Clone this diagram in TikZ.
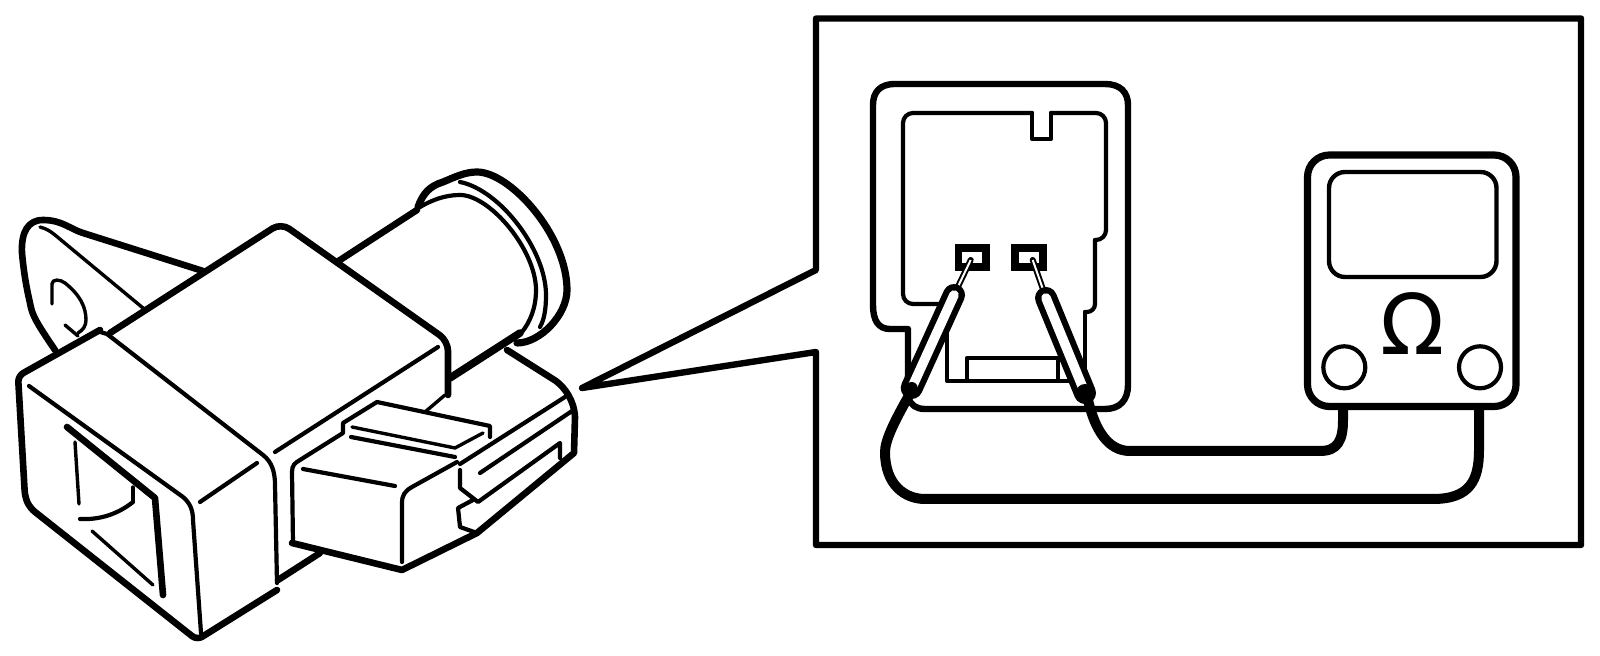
\documentclass[tikz,border=0pt]{standalone}
\usepackage{fontspec}
\newfontfamily\symfont{DejaVu Sans}
\tikzset{
  px/.style={x=0.5pt,y=-0.5pt},
  hair/.style={draw=black,line width=1.7pt,line cap=round,line join=round},
  mid/.style={draw=black,line width=2.1pt,line cap=round,line join=round},
  heavy/.style={draw=black,line width=3.3pt,line cap=round,line join=round},
  cablew/.style={draw=black,line width=5pt,line cap=butt,line join=round},
}
\begin{document}
\begin{tikzpicture}[px]
\useasboundingbox[fill=white] (0,0) rectangle (1600,656);
% ---------- device: bracket
\draw[heavy] (203,271) -- (83,233) .. controls (70,229) and (62,220) .. (43,220) .. controls (28,220) and (21,232) .. (22,253) .. controls (24,275) and (27,290) .. (30,303) .. controls (32,315) and (36,322) .. (55,350);
\draw[hair] (40,227) .. controls (47,229) and (50,231) .. (55,235) -- (143,308);
\draw[hair] (52,304) -- (52,284) .. controls (52,279) and (60,279) .. (65,283) .. controls (80,295) and (86,307) .. (86,320) .. controls (86,326) and (83,330) .. (78,333);
\draw[hair] (65,325) -- (78,336);
% rear block
\draw[heavy,rounded corners=5pt] (110,333) -- (281,223) -- (448,341) -- (448,395);
\draw[hair] (445,395) -- (425,412);
\draw[mid] (438,347) -- (275,452);
% cylinder
\draw[heavy] (337,262) -- (417,210);
\draw[line width=3.6pt,draw=black,line cap=round,line join=round] (418,207) .. controls (423,193) and (430,186) .. (443,182) .. controls (455,177) and (465,172) .. (477,172) .. controls (510,172) and (567,235) .. (567,290) .. controls (567,315) and (540,343) .. (517,343);
\draw[mid] (420,207) .. controls (432,200) and (445,195) .. (460,195) .. controls (490,195) and (536,250) .. (536,290) .. controls (536,308) and (530,322) .. (522,332);
\draw[mid] (460,182) .. controls (500,190) and (546,250) .. (546,295) .. controls (546,310) and (544,320) .. (540,327);
\draw[line width=3.8pt,draw=black,line cap=round] (450,378) -- (520,333);
% rear connector
\draw[heavy] (507,350) -- (556,381) .. controls (565,388) and (574,400) .. (575,417) -- (574,453) -- (477,533) -- (402,570) -- (292,543);
\draw[heavy] (320,553) -- (278,580);
% front connector detail
\draw[mid] (293,543) -- (292,472) .. controls (292,465) and (295,463) .. (300,460) -- (343,433) -- (343,423) -- (377,402) -- (490,426) -- (490,437);
\draw[hair] (352,427) -- (455,448) -- (483,433);
\draw[mid] (351,437) -- (455,457);
\draw[mid] (303,469) -- (395,486);
\draw[mid] (457,462) -- (412,487) .. controls (405,491) and (402,495) .. (402,503) -- (402,562);
\draw[mid] (460,464) -- (565,397);
\draw[mid] (480,473) -- (572,411);
\draw[mid] (460,470) -- (460,488) -- (478,502) -- (560,443) -- (560,458);
\draw[mid] (473,500) -- (458,508) -- (460,527) -- (477,533);
% front block
\draw[heavy,rounded corners=3pt] (100,330) -- (18,376) -- (25,497) -- (30,508) -- (197,640) -- (277,590);
\draw[mid] (97,331) -- (107,334) -- (263,455) .. controls (272,462) and (275,472) .. (275,485) -- (277,583);
\draw[mid] (29,386) -- (183,497) .. controls (190,503) and (193,510) .. (193,520) -- (201,633);
\draw[mid] (200,502) -- (257,463);
\draw[heavy] (67,427) -- (155,498) -- (163,595);
\draw[hair] (75,442) -- (79,504);
\draw[mid] (80,519) .. controls (100,520) and (118,514) .. (133,502);
\draw[hair] (133,502) -- (133,487);
\draw[hair] (92,531) -- (153,585);
% ---------- callout frame
\coordinate (apex) at (582,388);
\draw[line width=3.2pt,line cap=round,line join=round,draw=black] (apex) -- (816,270) -- (816,18.5) -- (1581,18.5) -- (1581,545) -- (816,545) -- (816,352) -- cycle;
% ---------- connector face
\draw[line width=3.2pt,line join=round,line cap=round,draw=black] (908,329) -- (890,329) .. controls (878,329) and (873,320) .. (873,305) -- (873,105) .. controls (873,92) and (880,84) .. (895,84) -- (1105,84) .. controls (1120,84) and (1128,92) .. (1128,105) -- (1128,385) .. controls (1128,400) and (1120,409) .. (1105,409) -- (925,409) .. controls (916,409) and (911,405) .. (908,398) -- cycle;
\draw[mid,rounded corners=5pt] (942,304) -- (903,304) -- (903,113) -- (1032,113);
\draw[mid] (1032,113) -- (1032,139) -- (1051,139) -- (1051,113);
\draw[mid,rounded corners=5pt] (1051,113) -- (1106,113) -- (1106,240) -- (1095,240);
\draw[mid,rounded corners=4pt] (1095,240) -- (1095,312) -- (1085,312);
\draw[mid] (1085,312) -- (1085,381) -- (947,381) -- (947,333);
\draw[mid] (967,381) -- (967,358) -- (1058,358) -- (1058,381);
\draw[line width=3.6pt,draw=black] (958.5,248) rectangle (986,267);
\draw[line width=3.6pt,draw=black] (1015,248) rectangle (1043,267);
% ---------- meter
\draw[line width=3.6pt,draw=black,rounded corners=11pt] (1307.5,155) rectangle (1516,406.5);
\draw[mid,line width=2.2pt,rounded corners=8pt] (1329,172) rectangle (1496.5,277);
\node[inner sep=0pt,font=\symfont\fontsize{42}{42}\selectfont] (ohm) at (1413,324) {Ω};
\draw[mid] (1344.3,367.3) circle[radius=21];
\draw[mid] (1480,367.3) circle[radius=21];
% ---------- cables
\coordinate (leftprobeend) at (911,392);
\coordinate (rightprobeend) at (1088,400);
\coordinate (meterA) at (1343,406);
\coordinate (meterB) at (1479,406);
\draw[cablew] (leftprobeend) .. controls (895,420) and (885,440) .. (885,452) .. controls (885,485) and (905,499) .. (925,499) -- (1433,499) .. controls (1470,499) and (1479,480) .. (1479,450) -- (meterB);
\draw[cablew] (rightprobeend) .. controls (1095,430) and (1108,451) .. (1130,451) -- (1320,451) .. controls (1338,451) and (1343,440) .. (1343,420) -- (meterA);
% ---------- probes
\coordinate (lp1) at (970.7,260); \coordinate (lp2) at (954,295); \coordinate (lp3) at (911.7,388);
\coordinate (rp1) at (1032.7,260); \coordinate (rp2) at (1046,298); \coordinate (rp3) at (1085,393);
\draw[draw=black,line width=3pt,line cap=round] (lp1) -- (lp2);
\draw[draw=white,line width=1pt] (lp1) -- (lp2);
\draw[draw=black,line width=3pt,line cap=round] (rp1) -- (rp2);
\draw[draw=white,line width=1pt] (rp1) -- (rp2);
\draw[draw=black,line width=11pt,line cap=round] (lp2) -- (lp3);
\draw[draw=white,line width=4.8pt,line cap=round] (lp2) -- (lp3);
\draw[draw=black,line width=11pt,line cap=round] (rp2) -- (rp3);
\draw[draw=white,line width=4.8pt,line cap=round] (rp2) -- (rp3);
\fill[black] (rp3) circle[radius=9];
\fill[black] (lp3) circle[radius=6];
\end{tikzpicture}
\end{document}
